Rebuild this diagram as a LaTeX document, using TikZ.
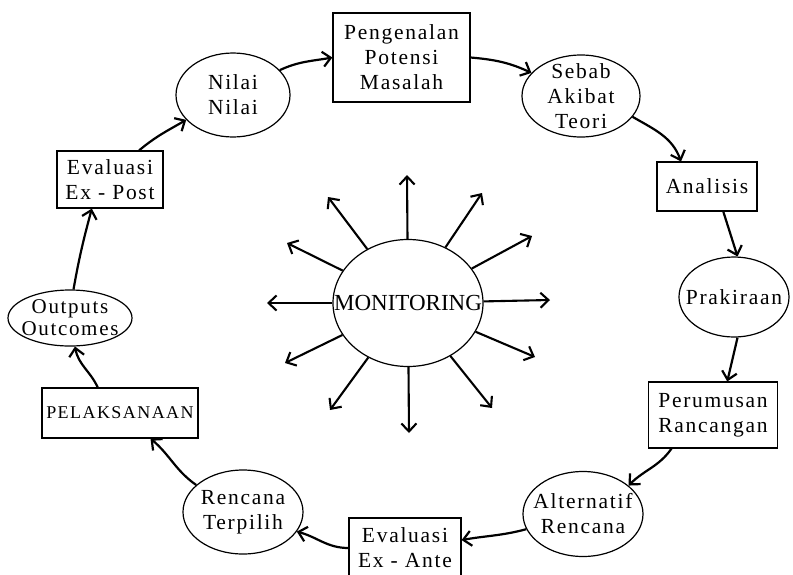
\documentclass[tikz,border=0pt]{standalone}
\usepackage{fontspec}
\setmainfont{Liberation Serif}[LetterSpace=8]
\newfontfamily\monfont{Liberation Serif}
\usetikzlibrary{shapes.geometric,arrows.meta}
\begin{document}
\begin{tikzpicture}[x=1pt,y=-1pt,
  box/.style={draw,line width=1.2pt,rectangle,inner sep=0pt},
  ell/.style={draw,line width=1.2pt,ellipse,inner sep=0pt},
  lbl/.style={align=center,font=\fontsize{21.5}{25}\selectfont,inner sep=0pt},
  flow/.style={line width=2.2pt,-{Straight Barb[length=8pt,width=15pt]}},
  ray/.style={line width=2.1pt,-{Straight Barb[length=8pt,width=15pt]}}]
\useasboundingbox[fill=white] (0,0) rectangle (793,574);

% shapes
\node[box,minimum width=137pt,minimum height=89pt] (pot) at (401.5,57.5) {};
\node[ell,minimum width=114pt,minimum height=84pt] (nilai) at (233,95) {};
\node[ell,minimum width=118pt,minimum height=82pt] (sebab) at (581,96) {};
\node[box,minimum width=100pt,minimum height=49pt] (analisis) at (707,186.5) {};
\node[ell,minimum width=110pt,minimum height=80pt] (prak) at (734,297) {};
\node[box,minimum width=129pt,minimum height=66pt] (perum) at (713,415) {};
\node[ell,minimum width=120pt,minimum height=85pt] (alt) at (583,514) {};
\node[box,minimum width=112pt,minimum height=60pt] (ante) at (405,548) {};
\node[ell,minimum width=120pt,minimum height=84pt] (renc) at (243,512) {};
\node[box,minimum width=156pt,minimum height=50pt] (pelak) at (120,413) {};
\node[ell,minimum width=124pt,minimum height=56pt] (outp) at (70,318) {};
\node[box,minimum width=106pt,minimum height=57pt] (expost) at (110,179.5) {};
\node[ell,minimum width=150pt,minimum height=127pt] (mon) at (408,303) {};

% texts
\node[lbl] (potT) at (pot) {Pengenalan\\Potensi\\Masalah};
\node[lbl] (nilaiT) at (nilai) {Nilai\\Nilai};
\node[lbl] (sebabT) at (sebab) {Sebab\\Akibat\\Teori};
\node[lbl] (analisisT) at (analisis) {Analisis};
\node[lbl] (prakT) at (prak) {Prakiraan};
\node[lbl] (perumT) at (perum) {Perumusan\\Rancangan};
\node[lbl] (altT) at (alt) {Alternatif\\Rencana};
\node[lbl] (anteT) at (ante) {Evaluasi\\Ex - Ante};
\node[lbl] (rencT) at (renc) {Rencana\\Terpilih};
\node[lbl,font=\fontsize{18}{20}\selectfont] (pelakT) at (pelak) {PELAKSANAAN};
\node[lbl,font=\fontsize{21}{22}\selectfont] (outpT) at (outp) {Outputs\\Outcomes};
\node[lbl] (expostT) at (expost) {Evaluasi\\Ex - Post};
\node[lbl,font=\monfont\fontsize{23}{25}\selectfont] (monT) at (mon) {MONITORING};

% cycle connectors
\draw[flow] (nilai.28) to[out=25,in=190] (pot.west);
\draw[flow] (pot.east) to[out=-5,in=155] (sebab.155);
\draw[flow] (sebab.-22) to[out=-30,in=110] (analisis.136);
\draw[flow] (analisis.-57) -- (prak.85);
\draw[flow] (prak.-85) -- (perum.67);
\draw[flow] (perum.-141) to[out=-125,in=45] (alt.32);
\draw[flow] (alt.-165) to[out=195,in=10] (ante.8);
\draw[flow] (ante.west) to[out=180,in=-15] (renc.-20);
\draw[flow] (renc.150) to[out=145,in=-40] (pelak.-40);
\draw[flow] (pelak.131) to[out=115,in=-80] (outp.-80);
\draw[flow] (outp.83) to[out=80,in=-105] (expost.-122);
\draw[flow] (expost.45) to[out=40,in=-150] (nilai.-152);

% monitoring rays
\coordinate (t1) at (407,175);
\coordinate (t2) at (482,193);
\coordinate (t3) at (532,236);
\coordinate (t4) at (550,300);
\coordinate (t5) at (535,357);
\coordinate (t6) at (492,408);
\coordinate (t7) at (409,433);
\coordinate (t8) at (330,410);
\coordinate (t9) at (285,363);
\coordinate (t10) at (267,303);
\coordinate (t11) at (287,243);
\coordinate (t12) at (328,197);
\foreach \t in {t1,t2,t3,t4,t5,t6,t7,t8,t9,t10,t11,t12}
  \draw[ray] (mon) -- (\t);
\end{tikzpicture}
\end{document}
